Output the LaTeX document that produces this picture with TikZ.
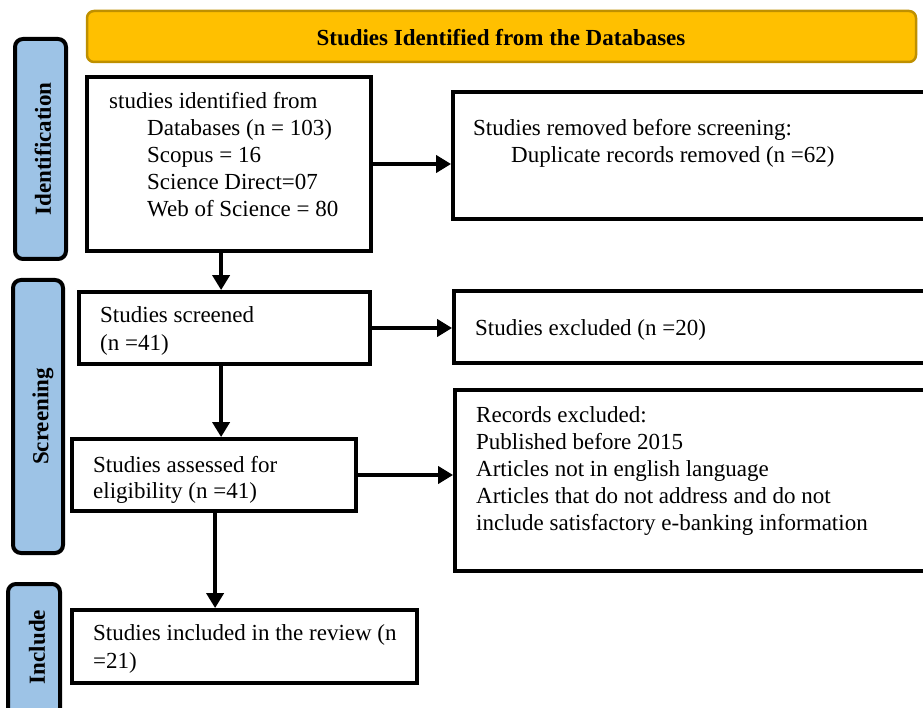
\documentclass[tikz,border=0pt]{standalone}
\usepackage{fontspec}
\setmainfont{Liberation Serif}
\usetikzlibrary{arrows.meta}
\definecolor{bannerfill}{HTML}{FFC000}
\definecolor{bannerdraw}{HTML}{BF9000}
\definecolor{sidefill}{HTML}{9DC3E6}
\tikzset{
  box/.style={draw=black, line width=3.8pt, fill=white, inner sep=0pt},
  side/.style={draw=black, line width=4pt, fill=sidefill, rounded corners=8pt, inner sep=0pt},
  txt/.style={anchor=base west, inner sep=0pt, font=\fontsize{23}{27}\selectfont},
  sidetxt/.style={rotate=90, inner sep=0pt, font=\fontsize{23}{27}\selectfont\bfseries},
  arr/.style={line width=3.8pt, -{Triangle[length=15pt,width=17pt]}}
}
\begin{document}
\begin{tikzpicture}[x=1pt,y=-1pt]
\clip (0,0) rectangle (923,708);
\fill[white] (0,0) rectangle (923,708);
% banner
\node[draw=bannerdraw, line width=2.5pt, fill=bannerfill, rounded corners=7pt, minimum width=829pt, minimum height=51pt, inner sep=0pt] (banner) at (501.5,36.5) {};
\node[font=\fontsize{23}{27}\selectfont\bfseries, inner sep=0pt, anchor=base] (bannertxt) at (501,46) {Studies Identified from the Databases};
% side labels
\node[side, minimum width=51pt, minimum height=220pt] (sid) at (40.5,149) {};
\node[sidetxt] (sidt) at (43,149) {Identification};
\node[side, minimum width=50pt, minimum height=273pt] (sscr) at (38,416.5) {};
\node[sidetxt] (sscrt) at (43,416.5) {Screening};
\node[side, minimum width=52pt, minimum height=156pt] (sinc) at (34,662) {};
\node[sidetxt] (sinct) at (37,647) {Include};
% boxes
\node[box, minimum width=284pt, minimum height=174pt] (b1) at (229,164) {};
\node[box, minimum width=487pt, minimum height=127pt] (b2) at (696.5,155.5) {};
\node[box, minimum width=291pt, minimum height=72pt] (b3) at (224.5,328) {};
\node[box, minimum width=486pt, minimum height=72pt] (b4) at (697,327) {};
\node[box, minimum width=284pt, minimum height=72pt] (b5) at (214,475) {};
\node[box, minimum width=485pt, minimum height=181pt] (b6) at (697.5,480.5) {};
\node[box, minimum width=345pt, minimum height=73pt] (b7) at (244.5,646.5) {};
% texts box1
\node[txt] (t1a) at (109,109) {studies identified from};
\node[txt] (t1b) at (147,136) {Databases (n = 103)};
\node[txt] (t1c) at (147,163) {Scopus = 16};
\node[txt] (t1d) at (147,190) {Science Direct=07};
\node[txt] (t1e) at (147,217) {Web of Science = 80};
% box2
\node[txt] (t2a) at (473,136) {Studies removed before screening:};
\node[txt] (t2b) at (511,163) {Duplicate records removed (n =62)};
% box3
\node[txt] (t3a) at (100,323) {Studies screened};
\node[txt] (t3b) at (100,350) {(n =41)};
% box4
\node[txt] (t4a) at (475,335) {Studies excluded (n =20)};
% box5
\node[txt] (t5a) at (93,472) {Studies assessed for};
\node[txt] (t5b) at (93,498) {eligibility (n =41)};
% box6
\node[txt] (t6a) at (476,422) {Records excluded:};
\node[txt] (t6b) at (476,449) {Published before 2015};
\node[txt] (t6c) at (476,476) {Articles not in english language};
\node[txt] (t6d) at (476,503) {Articles that do not address and do not};
\node[txt] (t6e) at (476,530) {include satisfactory e-banking information};
% box7
\node[txt] (t7a) at (93,640) {Studies included in the review (n};
\node[txt] (t7b) at (93,668) {=21)};
% arrows
\draw[arr] (b1.east) -- (b1.east -| b2.west);
\draw[arr] ([xshift=-3pt]b3.east) -- (b3.east -| b4.west);
\draw[arr] (b5.east) -- (b5.east -| b6.west);
\draw[arr] ([xshift=136pt]b1.south west) -- ([xshift=136pt]b1.south west |- b3.north);
\draw[arr] ([xshift=144pt]b3.south west) -- ([xshift=144pt]b3.south west |- b5.north);
\draw[arr] ([xshift=145pt]b5.south west) -- ([xshift=145pt]b5.south west |- b7.north);
\end{tikzpicture}
\end{document}
